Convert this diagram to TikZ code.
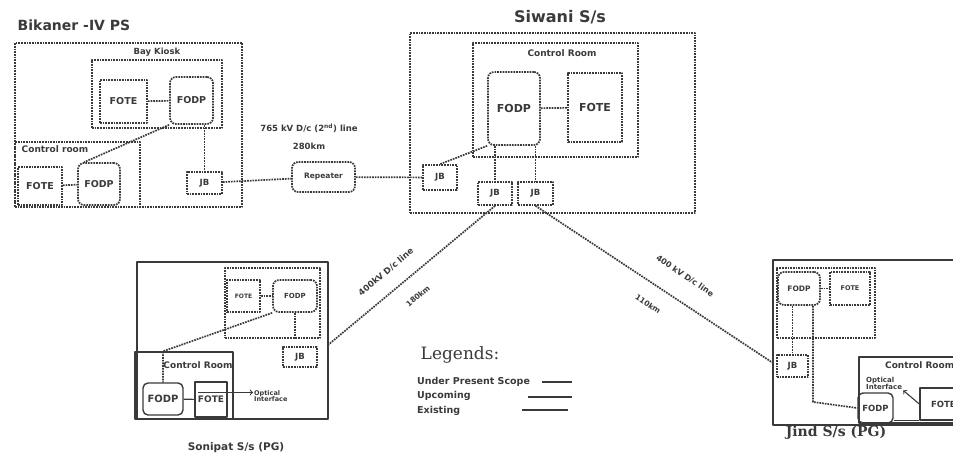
\documentclass[tikz,border=0pt]{standalone}
\usepackage{fontspec}
\setsansfont{DejaVu Sans}
\newfontfamily\slabfont{DejaVu Serif}
\usetikzlibrary{calc}
\definecolor{ink}{RGB}{58,58,58}

\begin{document}
\begin{tikzpicture}[x=1pt, y=-1pt, line join=round,
        fs/.style={font=\sffamily\bfseries\fontsize{#1}{#1}\selectfont},
        txt/.style={fs=8.5, text=ink, inner sep=1pt},
        dbox/.style={txt, draw=ink, densely dotted, line width=1.7pt, inner sep=0pt},
        rbox/.style={dbox, rounded corners=6pt},
        sbox/.style={txt, draw=ink, line width=1.4pt, inner sep=0pt},
        srbox/.style={sbox, rounded corners=5pt},
        dline/.style={draw=ink, densely dotted, line width=1.7pt},
        sline/.style={draw=ink, line width=1.1pt},
        hdr/.style={txt, fs=14},
        sz/.style 2 args={minimum width=#1, minimum height=#2}]
        \useasboundingbox (0,0) rectangle (953,473);

        % Bikaner -IV PS
        \node[hdr] (bkTitle) at (74,25) {Bikaner -IV PS};
        \node[dbox, sz={227}{164}] (bkOuter) at (128.5,125) {};
        \node[dbox, sz={130}{68}] (bkBay) at (157,94) {};
        \node[txt] (bkBayLbl) at (157,52) {Bay Kiosk};
        \node[dbox, fs=9.5, sz={47}{43}] (bkFote1) at (123.5,101.5) {FOTE};
        \node[rbox, fs=9.5, sz={43}{47}] (bkFodp1) at (191.5,100.5) {FODP};
        \node[dbox, sz={125}{65}] (bkCR) at (77.5,174.5) {};
        \node[txt, fs=9] (bkCRLbl) at (55,149) {Control room};
        \node[dbox, fs=9.5, sz={44}{38}] (bkFote2) at (40,186) {FOTE};
        \node[rbox, fs=9.5, sz={42}{42}] (bkFodp2) at (99,184) {FODP};
        \node[dbox, sz={35}{22}] (bkJB) at (204.5,183) {JB};
        \draw[dline] (bkFote1) -- (bkFodp1);
        \draw[dline] (bkFote2) -- (bkFodp2);
        \draw[dline] (bkFodp1.south -| bkJB.north) -- (bkJB.north);
        \draw[dline] (bkFodp1.south west) -- ([xshift=7]bkFodp2.north west);

        % repeater on the 765 kV line
        \node[rbox, fs=7.5, sz={63}{30}] (rep) at (323.5,177) {Repeater};
        \node[txt] (repLbl1) at (309,128) {765 kV D/c (2\textsuperscript{nd}) line};
        \node[txt] (repLbl2) at (309,146) {280km};
        \draw[dline] (bkJB) -- (rep);

        % Siwani S/s
        \node[hdr, fs=16] (swTitle) at (560,17) {Siwani S/s};
        \node[dbox, sz={285}{180}] (swOuter) at (552.5,123) {};
        \node[dbox, sz={165}{114}] (swCR) at (555.5,100) {};
        \node[txt, fs=9] (swCRLbl) at (562,53) {Control Room};
        \node[rbox, fs=11, sz={52}{73}] (swFodp) at (514,108.5) {FODP};
        \node[dbox, fs=11, sz={54}{69}] (swFote) at (595,107.5) {FOTE};
        \node[dbox, sz={34}{25}] (swJB1) at (440,177.5) {JB};
        \node[dbox, sz={34}{23}] (swJB2) at (495,193.5) {JB};
        \node[dbox, sz={35}{23}] (swJB3) at (535.5,193.5) {JB};
        \draw[dline] (swFodp) -- (swFote);
        \draw[dline] (swFodp.south west) -- (swJB1.north);
        \draw[dline] (swFodp.south -| swJB2.north) -- (swJB2.north);
        \draw[dline] (swFodp.south -| swJB3.north) -- (swJB3.north);
        \draw[dline] (rep) -- (swJB1);

        % Sonipat S/s (PG)
        \node[hdr, fs=10.5] (spTitle) at (236,448) {Sonipat S/s (PG)};
        \node[sbox, sz={191}{157}] (spOuter) at (232.5,340.5) {};
        \node[dbox, sz={95}{70}] (spBay) at (272.5,303) {};
        \node[dbox, fs=6, sz={33}{32}] (spFote1) at (243.5,296) {FOTE};
        \node[rbox, fs=7, sz={44}{32}] (spFodp1) at (295,296) {FODP};
        \node[dbox, sz={34}{20}] (spJB) at (300,357) {JB};
        \node[sbox, sz={98}{67}] (spCR) at (184,385.5) {};
        \node[txt, fs=9] (spCRLbl) at (198,365) {Control Room};
        \node[srbox, fs=10, sz={40}{32}] (spFodp2) at (163,399) {FODP};
        \node[sbox, fs=9, sz={32}{35}] (spFote2) at (211,399.5) {FOTE};
        \node[txt, fs=6.5, align=left, anchor=west] (spOpt) at (253,396) {Optical\\Interface};
        \draw[dline] (spFote1) -- (spFodp1);
        \draw[dline] (spFodp1.south) -- (spFodp1.south |- spBay.south);
        \draw[dline] (spFodp1.south west) -- (spFodp2.north |- spCR.north) -- (spFodp2.north);
        \draw[sline] (spFodp2) -- (spFote2);
        \coordinate (spArr) at ([xshift=4,yshift=7]spFote2.west);
        \draw[sline, ->] (spArr) -- (spArr -| spOpt.west);

        % Jind S/s (PG)
        \node[font=\slabfont\bfseries\fontsize{14}{14}\selectfont, text=ink] (jdTitle) at (836,433) {Jind S/s (PG)};
        \node[sbox, sz={217}{165}] (jdOuter) at (881.5,342.5) {};
        \node[dbox, sz={98}{70}] (jdBay) at (826,303) {};
        \node[rbox, fs=7.5, sz={42}{33}] (jdFodp1) at (799,288.5) {FODP};
        \node[dbox, fs=6.5, sz={40}{33}] (jdFote1) at (850,288.5) {FOTE};
        \node[dbox, sz={31}{22}] (jdJB) at (792.5,366) {JB};
        \node[sbox, sz={131}{66}] (jdCR) at (924.5,390) {};
        \node[txt, fs=9, anchor=west] (jdCRLbl) at (884,365) {Control Room};
        \node[txt, fs=7, align=left, anchor=west] (jdOpt) at (865,383) {Optical\\Interface};
        \node[srbox, fs=8.5, sz={35}{30}] (jdFodp2) at (875.5,408) {FODP};
        \node[sbox, fs=8.5, sz={70}{32}, text width=48, align=left] (jdFote2) at (955,404) {FOTE};
        \draw[dline] (jdFodp1) -- (jdFote1);
        \draw[dline] (jdFodp1.south -| jdJB.north) -- (jdJB.north);
        \coordinate (jdBend) at (813,402);
        \draw[dline] (jdBend |- jdFodp1.south) -- (jdBend) -- (jdFodp2.west);
        \coordinate (jdLink) at ([yshift=3]jdFodp2.south east);
        \draw[sline] (jdLink) -- (jdLink -| jdFote2.west);
        \draw[sline, ->] (jdFote2.west) -- (jdOpt.south east);

        % 400 kV lines
        \coordinate (spEnd) at (328,345);
        \coordinate (jdEnd) at (773,363);
        \draw[dline] (swJB2.south) -- (spEnd);
        \draw[dline] (swJB3.south) -- (jdEnd);
        \node[txt, rotate=40] (spLbl1) at (386,272) {400kV D/c line};
        \node[txt, fs=7.5, rotate=40] (spLbl2) at (418,296) {180km};
        \node[txt, fs=8, rotate=-34] (jdLbl1) at (685,276) {400 kV D/c line};
        \node[txt, fs=7.5, rotate=-34] (jdLbl2) at (648,304) {110km};

        % legend
        \node[font=\slabfont\fontsize{17}{17}\selectfont, text=ink] (lgTitle) at (460,355) {Legends:};
        \node[txt, fs=9.5, anchor=west] (lgA) at (416,382) {Under Present Scope};
        \node[txt, fs=9.5, anchor=west] (lgB) at (416,396) {Upcoming};
        \node[txt, fs=9.5, anchor=west] (lgC) at (416,411) {Existing};
        \coordinate (lgA1) at (542,382);
        \coordinate (lgB1) at (528,397);
        \coordinate (lgC1) at (522,410);
        \coordinate (lgEnd) at (572,0);
        \draw[sline] (lgA1) -- (lgA1 -| lgEnd);
        \draw[sline] (lgB1) -- (lgB1 -| lgEnd);
        \draw[sline] ([xshift=0]lgC1) -- ([xshift=-4]lgC1 -| lgEnd);
\end{tikzpicture}
\end{document}
